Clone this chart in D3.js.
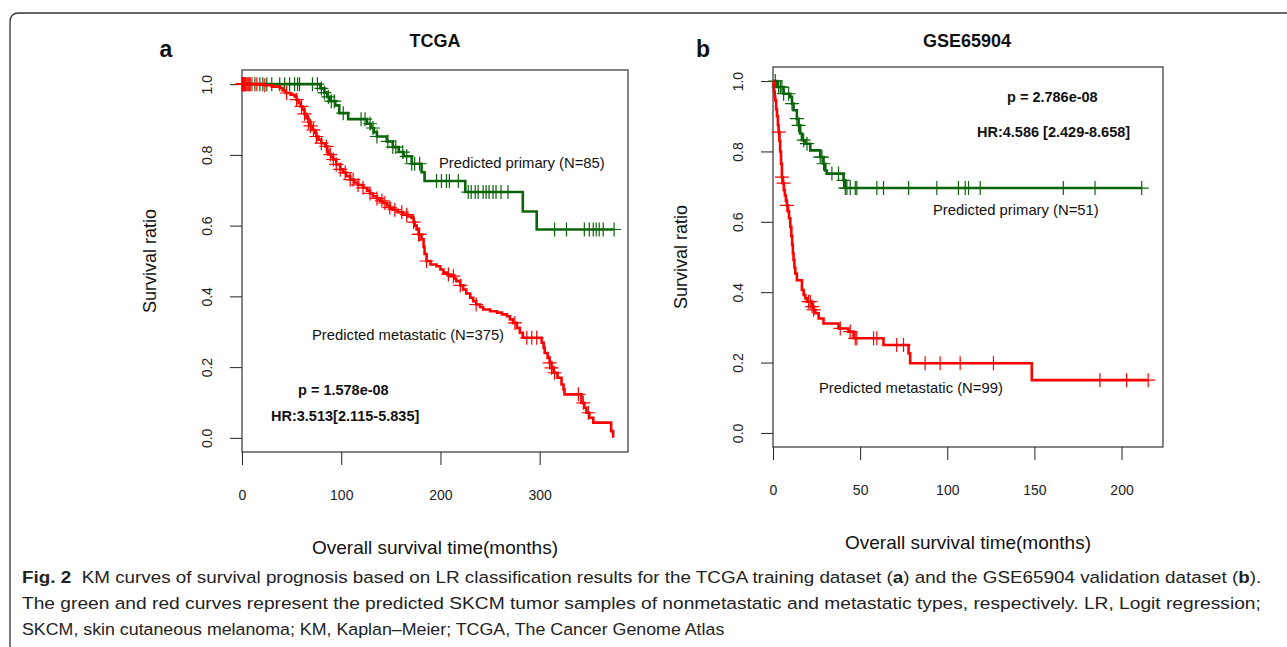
<!DOCTYPE html>
<html>
<head>
<meta charset="utf-8">
<script src="https://cdn.jsdelivr.net/npm/d3@7"></script>
<style>
body{margin:0;background:#fff}
svg{display:block;font-family:"Liberation Sans",Arial,sans-serif}
</style>
</head>
<body>
<svg id="fig" width="1287" height="647"></svg>
<script>
// tick values
var y_ticks = [0, 0.2, 0.4, 0.6, 0.8, 1.0];
var tcga_x_ticks = [0, 100, 200, 300];
var gse_x_ticks = [0, 50, 100, 150, 200];

// TCGA, predicted primary (green)
var tcga_pri_time = [79, 83, 86, 89, 94, 98, 107, 126, 130, 133, 136, 146, 152, 158, 163, 171, 181, 184, 225, 283, 297];
var tcga_pri_surv = [0.988, 0.976, 0.964, 0.952, 0.940, 0.918, 0.901, 0.888, 0.876, 0.864, 0.852, 0.838, 0.822, 0.808, 0.796, 0.775, 0.751, 0.726, 0.695, 0.640, 0.589];
var tcga_pri_cens = [1, 2, 3, 8, 13, 18, 21, 25, 30, 38, 43, 48, 53, 56, 58, 71, 76, 80, 83, 87, 90, 93, 102, 120, 124, 129, 132, 136, 147, 152, 155, 162, 166, 171, 174, 179, 196, 201, 206, 209, 218, 228, 231, 235, 238, 243, 246, 249, 253, 256, 261, 268, 315, 327, 345, 350, 354, 357, 360, 364, 375];

// TCGA, predicted metastatic (red)
var tcga_met_time = [22, 30, 38, 41, 44, 49, 53, 55, 57, 59, 61, 63, 65, 67, 69, 71, 73, 75, 77, 80, 84, 86, 87, 90, 92, 95, 99, 102, 105, 109, 113, 117, 122, 126, 129, 132, 136, 139, 142, 146, 149, 152, 157, 162, 167, 171, 173, 174, 176, 178, 181, 183, 184, 186, 190, 196, 200, 203, 207, 210, 214, 216, 220, 223, 226, 230, 233, 236, 240, 243, 250, 257, 262, 267, 270, 273, 277, 280, 283, 302, 304, 305, 308, 310, 312, 314, 318, 322, 324, 325, 342, 345, 347, 350, 354, 372, 374];
var tcga_met_surv = [0.997, 0.993, 0.989, 0.982, 0.975, 0.970, 0.965, 0.956, 0.947, 0.937, 0.928, 0.916, 0.904, 0.893, 0.882, 0.871, 0.862, 0.852, 0.843, 0.833, 0.824, 0.812, 0.801, 0.794, 0.787, 0.773, 0.759, 0.750, 0.740, 0.730, 0.722, 0.715, 0.707, 0.699, 0.691, 0.683, 0.677, 0.670, 0.664, 0.657, 0.651, 0.645, 0.638, 0.631, 0.626, 0.622, 0.610, 0.600, 0.589, 0.575, 0.561, 0.540, 0.520, 0.500, 0.490, 0.485, 0.476, 0.467, 0.462, 0.457, 0.450, 0.443, 0.431, 0.419, 0.408, 0.396, 0.386, 0.377, 0.370, 0.363, 0.358, 0.354, 0.349, 0.344, 0.335, 0.325, 0.311, 0.297, 0.283, 0.269, 0.255, 0.240, 0.226, 0.212, 0.198, 0.184, 0.170, 0.151, 0.137, 0.123, 0.099, 0.085, 0.071, 0.057, 0.043, 0.019, 0.0];
var tcga_met_cens = [0, 0.5, 1, 1.5, 2, 3, 4, 5, 6, 7, 8, 10, 15, 23, 45, 55, 60, 63, 67, 69, 72, 75, 80, 85, 89, 92, 95, 99, 104, 109, 112, 117, 122, 129, 136, 141, 144, 149, 154, 161, 166, 173, 178, 179, 186, 208, 213, 220, 236, 275, 287, 292, 297, 310, 312, 315, 339, 344, 349];

// GSE65904, predicted primary (green)
var gse_pri_time = [2.3, 6.1, 9.9, 10.9, 11.8, 13.7, 14.7, 15.6, 16.6, 18.5, 21.4, 27.1, 29, 30, 30.9, 40.5, 41.5];
var gse_pri_surv = [0.983, 0.964, 0.955, 0.936, 0.917, 0.893, 0.874, 0.851, 0.832, 0.822, 0.803, 0.784, 0.765, 0.746, 0.737, 0.718, 0.696];
var gse_pri_cens = [1.3, 3.2, 4.2, 5.1, 6.1, 9, 10.9, 13.7, 14.7, 17.6, 19.5, 27.1, 28.1, 29, 33.8, 37.6, 40.5, 41.5, 42.4, 44.3, 47.2, 48.1, 59.6, 63.4, 77.8, 94, 106.4, 110.3, 112.2, 118.9, 166.6, 184.8, 211.6];

// GSE65904, predicted metastatic (red)
var gse_met_time = [0.3, 0.6, 1.0, 1.3, 1.8, 2.3, 2.8, 3.2, 3.7, 4.1, 4.6, 5.1, 5.6, 6.2, 6.8, 7.4, 8.0, 8.6, 9.2, 9.9, 10.5, 11.0, 11.4, 11.8, 12.3, 12.8, 13.7, 16.6, 17.6, 18.5, 19.5, 22.4, 23.3, 24.3, 26.2, 29, 37.6, 43.3, 46.2, 63.4, 77.8, 78.7, 148.5];
var gse_met_surv = [0.99, 0.97, 0.955, 0.945, 0.92, 0.90, 0.875, 0.855, 0.83, 0.80, 0.765, 0.727, 0.71, 0.69, 0.675, 0.66, 0.647, 0.63, 0.61, 0.586, 0.56, 0.535, 0.51, 0.491, 0.47, 0.453, 0.434, 0.406, 0.392, 0.383, 0.373, 0.359, 0.350, 0.340, 0.325, 0.311, 0.297, 0.288, 0.269, 0.250, 0.226, 0.198, 0.150];
var gse_met_cens = [3.2, 5.1, 6.1, 8.0, 20.4, 21.4, 22.4, 23.3, 38.6, 44.3, 47.2, 48.1, 57.7, 59.6, 71, 74.9, 87.3, 95.9, 107.4, 126.5, 187.6, 202.9, 215.3];

var green = '#0a640a', red = '#ff0000';

var svg = d3.select('#fig');
svg.append('rect').attr('width', 1287).attr('height', 647).attr('fill', '#fff');

// rounded frame around the figure
svg.append('path')
    .attr('d', 'M10,660 V22 Q10,13 19,13 H1300')
    .attr('fill', 'none').attr('stroke', '#333').attr('stroke-width', 1.3);

var surv_at = function(times, survs, t){
    var s = 1;
    for (var i = 0; i < times.length; i++){
        if (times[i] <= t) s = survs[i];
    }
    return s;
};

var draw_curve = function(g, x, y, times, survs, cens, color){
    var pts = [[0, 1]];
    times.forEach(function(t, i){ pts.push([t, survs[i]]); });
    var end = Math.max(d3.max(times), d3.max(cens));
    pts.push([end, survs[survs.length - 1]]);
    var line = d3.line().x(function(d){return x(d[0])}).y(function(d){return y(d[1])}).curve(d3.curveStepAfter);
    g.append('path').attr('d', line(pts))
        .attr('fill', 'none').attr('stroke', color).attr('stroke-width', 2.6);
    g.selectAll(null).data(cens).enter()
        .append('path')
        .attr('transform', function(d){return 'translate(' + x(d) + ',' + y(surv_at(times, survs, d)) + ')'})
        .attr('d', 'M-7,0H7M0,-7V7')
        .attr('stroke', color).attr('stroke-width', 1.2);
};

var draw_panel = function(p){
    var x = d3.scaleLinear().domain([0, p.xmax]).range([p.left, p.right]);
    var y = d3.scaleLinear().domain([-0.04, 1.04]).range([p.bottom, p.top]);
    var g = svg.append('g');

    g.append('g').attr('transform', 'translate(0,' + p.bottom + ')')
        .call(d3.axisBottom(x).tickValues(p.xticks).tickSize(13).tickPadding(25).tickFormat(d3.format('d')))
        .call(function(a){ a.select('.domain').remove(); });

    var ya = g.append('g').attr('transform', 'translate(' + p.left + ',0)')
        .call(d3.axisLeft(y).tickValues(y_ticks).tickSize(12).tickFormat(d3.format('.1f')))
        .call(function(a){ a.select('.domain').remove(); });
    ya.selectAll('.tick text')
        .attr('x', null).attr('dy', null)
        .attr('transform', 'translate(-30,0) rotate(-90)')
        .attr('text-anchor', 'middle');

    g.selectAll('.tick line').attr('stroke', '#222');
    g.selectAll('.tick text').attr('font-size', 14).attr('fill', '#222')
        .attr('font-family', '"Liberation Sans",Arial,sans-serif');

    g.append('rect').attr('x', p.left).attr('y', p.top)
        .attr('width', p.right - p.left).attr('height', p.bottom - p.top)
        .attr('fill', 'none').attr('stroke', '#222').attr('stroke-width', 1.1);

    draw_curve(g, x, y, p.pri[0], p.pri[1], p.pri[2], green);
    draw_curve(g, x, y, p.met[0], p.met[1], p.met[2], red);

    // axis titles
    g.append('text').attr('x', (p.left + p.right) / 2).attr('y', p.bottom + 102)
        .attr('text-anchor', 'middle').attr('font-size', 19).attr('fill', '#111')
        .text('Overall survival time(months)');
    g.append('text')
        .attr('transform', 'translate(' + (p.left - 86) + ',' + ((p.top + p.bottom) / 2) + ') rotate(-90)')
        .attr('text-anchor', 'middle').attr('font-size', 18).attr('fill', '#111')
        .text('Survival ratio');

    // panel title and letter
    g.append('text').attr('x', p.title_x).attr('y', 47).attr('text-anchor', 'middle')
        .attr('font-size', 18).attr('font-weight', 'bold').attr('fill', '#111').text(p.title);
    g.append('text').attr('x', p.letter_x).attr('y', 57).attr('text-anchor', 'middle')
        .attr('font-size', 23).attr('font-weight', 'bold').attr('fill', '#111').text(p.letter);

    p.notes.forEach(function(n){
        g.append('text').attr('x', n[1]).attr('y', n[2])
            .attr('font-size', n[3] ? 14.5 : 14.8).attr('font-weight', n[3] ? 'bold' : 'normal')
            .attr('fill', '#111').text(n[0]);
    });
};

draw_panel({
    left: 242, right: 628, top: 70, bottom: 452, xmax: 389,
    xticks: tcga_x_ticks, title: 'TCGA', title_x: 435, letter: 'a', letter_x: 166,
    pri: [tcga_pri_time, tcga_pri_surv, tcga_pri_cens],
    met: [tcga_met_time, tcga_met_surv, tcga_met_cens],
    notes: [
        ['Predicted primary (N=85)', 439, 168, false],
        ['Predicted metastatic (N=375)', 312, 340, false],
        ['p = 1.578e-08', 298, 395, true],
        ['HR:3.513[2.115-5.835]', 271, 421, true]
    ]
});

draw_panel({
    left: 773, right: 1163, top: 67, bottom: 447, xmax: 223.8,
    xticks: gse_x_ticks, title: 'GSE65904', title_x: 967, letter: 'b', letter_x: 703,
    pri: [gse_pri_time, gse_pri_surv, gse_pri_cens],
    met: [gse_met_time, gse_met_surv, gse_met_cens],
    notes: [
        ['p = 2.786e-08', 1007, 102, true],
        ['HR:4.586 [2.429-8.658]', 977, 137, true],
        ['Predicted primary (N=51)', 933, 215, false],
        ['Predicted metastatic (N=99)', 819, 393, false]
    ]
});

// caption, squeezed to the width of the original lines
var caption = [
    [[['Fig. 2', true], ['  KM curves of survival prognosis based on LR classification results for the TCGA training dataset (', false], ['a', true], [') and the GSE65904 validation dataset (', false], ['b', true], [').', false]], 583, 1240],
    [[['The green and red curves represent the predicted SKCM tumor samples of nonmetastatic and metastatic types, respectively. LR, Logit regression;', false]], 609, 1240],
    [[['SKCM, skin cutaneous melanoma; KM, Kaplan\u2013Meier; TCGA, The Cancer Genome Atlas', false]], 635, 703]
];
caption.forEach(function(c){
    var t = svg.append('text').attr('x', 0).attr('y', 0)
        .attr('font-size', 17).attr('fill', '#222').attr('xml:space', 'preserve')
        .style('white-space', 'pre');
    c[0].forEach(function(part){
        t.append('tspan').attr('font-weight', part[1] ? 'bold' : 'normal').text(part[0]);
    });
    var w = t.node().getComputedTextLength();
    t.attr('transform', 'translate(22,' + c[1] + ') scale(' + (c[2] / w) + ',1)');
});
</script>
</body>
</html>
